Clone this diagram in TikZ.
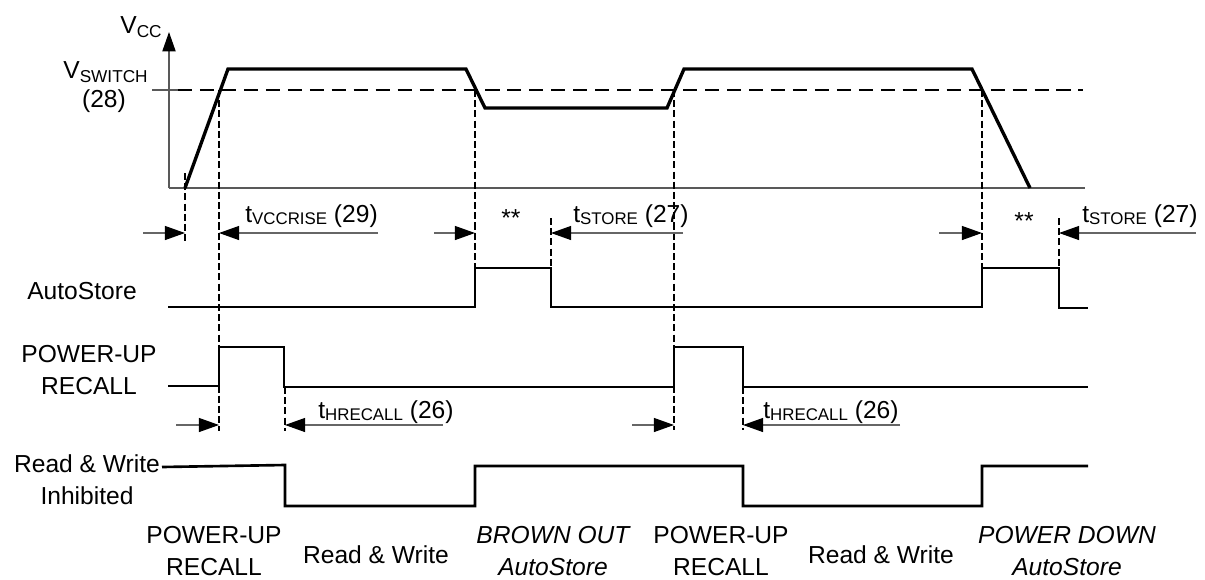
\documentclass[tikz,border=0pt]{standalone}
\usepackage{fontspec}
\setmainfont{Liberation Sans}
\usetikzlibrary{arrows.meta}
\def\sub#1{\raisebox{-1.3pt}{\fontsize{9.6}{11}\selectfont #1}}
\def\vsub#1{\raisebox{-2.3pt}{\fontsize{9.8}{11}\selectfont #1}}
\tikzset{
	sig/.style={line width=1.5pt, line join=miter},
	vcc/.style={line width=1.9pt, line join=miter},
	guide/.style={line width=1.1pt, dash pattern=on 4pt off 1.8pt},
	level/.style={line width=1.1pt, dash pattern=on 8pt off 4.5pt},
	axis/.style={line width=0.7pt, color=black!65},
	dim/.style={line width=0.7pt, color=black!60, -{Triangle[length=11.5pt, width=8pt, color=black]}},
	lbl/.style={inner sep=0pt, font=\fontsize{14}{18}\selectfont},
	lbl2/.style={lbl, align=center}
}

\begin{document}
\begin{tikzpicture}[x=0.02cm, y=-0.02cm]
			%%%%% START %%%%%
			\useasboundingbox (0, 0) rectangle (1205, 579);
			
			% Vcc axes
			\draw[axis, -{Triangle[length=11pt, width=7.5pt, color=black]}] (169, 188) -- (169, 32);
			\draw[axis] (169, 188) -- (1085, 188);
			\draw[axis] (152, 90) -- (178, 90);
			\draw[level] (178, 90) -- (1083, 90);
			
			\node[lbl, anchor=base west] (vcclabel) at (120, 33) {V\vsub{CC}};
			\node[lbl, anchor=base west] (vswitch) at (63, 78) {V\vsub{SWITCH}};
			\node[lbl, anchor=base] (vswitchref) at (104, 107) {(28)};
			
			\draw[vcc] (185, 188) -- (228, 69) -- (466, 69) -- (485, 108) -- (667, 108) -- (684, 69) -- (972, 69) -- (1030, 188);
			
			% dashed guides
			\draw[guide] (185, 173) -- (185, 243);
			\draw[guide] (219, 90) -- (219, 431);
			\draw[guide] (475, 90) -- (475, 268);
			\draw[guide] (551, 218) -- (551, 268);
			\draw[guide] (674, 90) -- (674, 430);
			\draw[guide] (285, 387) -- (285, 431);
			\draw[guide] (743, 387) -- (743, 430);
			\draw[guide] (982, 90) -- (982, 268);
			\draw[guide] (1059, 218) -- (1059, 268);
			
			% timing marks
			\draw[dim] (143, 233) -- (185, 233);
			\draw[dim] (378, 233) -- (219, 233);
			\node[lbl, anchor=base west] (trise) at (245, 222) {t\sub{VCCRISE} (29)};
			
			\draw[dim] (434, 233) -- (475, 233);
			\draw[dim] (683, 233) -- (551, 233);
			\node[lbl] (starsa) at (511, 218) {**};
			\node[lbl, anchor=base west] (tstorea) at (573, 222) {t\sub{STORE} (27)};
			
			\draw[dim] (939, 233) -- (982, 233);
			\draw[dim] (1196, 233) -- (1059, 233);
			\node[lbl] (starsb) at (1024, 221) {**};
			\node[lbl, anchor=base west] (tstoreb) at (1082, 222) {t\sub{STORE} (27)};
			
			\draw[dim] (176, 425) -- (219, 425);
			\draw[dim] (443, 425) -- (285, 425);
			\node[lbl, anchor=base west] (trecalla) at (318, 418) {t\sub{HRECALL} (26)};
			
			\draw[dim] (632, 425) -- (674, 425);
			\draw[dim] (900, 425) -- (743, 425);
			\node[lbl, anchor=base west] (trecallb) at (763, 418) {t\sub{HRECALL} (26)};
			
			% signals
			\node[lbl] (autostore) at (82, 291) {AutoStore};
			\draw[sig] (168, 307) -- (475, 307) -- (475, 268) -- (551, 268) -- (551, 307) -- (982, 307) -- (982, 268) -- (1059, 268) -- (1059, 308) -- (1088, 308);
			
			\node[lbl2] (pwrup) at (89, 370) {POWER-UP\\RECALL};
			\draw[sig] (168, 386) -- (219, 386) -- (219, 347) -- (284, 347) -- (284, 387) -- (674, 387) -- (674, 347) -- (743, 347) -- (743, 387) -- (1088, 387);
			
			\node[lbl2] (inhibit) at (87, 480) {Read \& Write\\Inhibited};
			\draw[sig] (162, 467) -- (285, 465) -- (285, 506) -- (475, 506) -- (475, 466) -- (743, 466) -- (743, 506) -- (982, 506) -- (982, 466) -- (1088, 466);
			
			% phases
			\node[lbl2] (phasea) at (214, 551) {POWER-UP\\RECALL};
			\node[lbl] (phaseb) at (376, 555) {Read \& Write};
			\node[lbl2, font=\fontsize{14}{18}\selectfont\itshape] (phasec) at (553, 551) {BROWN OUT\\AutoStore};
			\node[lbl2] (phased) at (721, 551) {POWER-UP\\RECALL};
			\node[lbl] (phasee) at (881, 555) {Read \& Write};
			\node[lbl2, font=\fontsize{14}{18}\selectfont\itshape] (phasef) at (1067, 551) {POWER DOWN\\AutoStore};
			
			%%%%% END %%%%%
		\end{tikzpicture}
\end{document}
